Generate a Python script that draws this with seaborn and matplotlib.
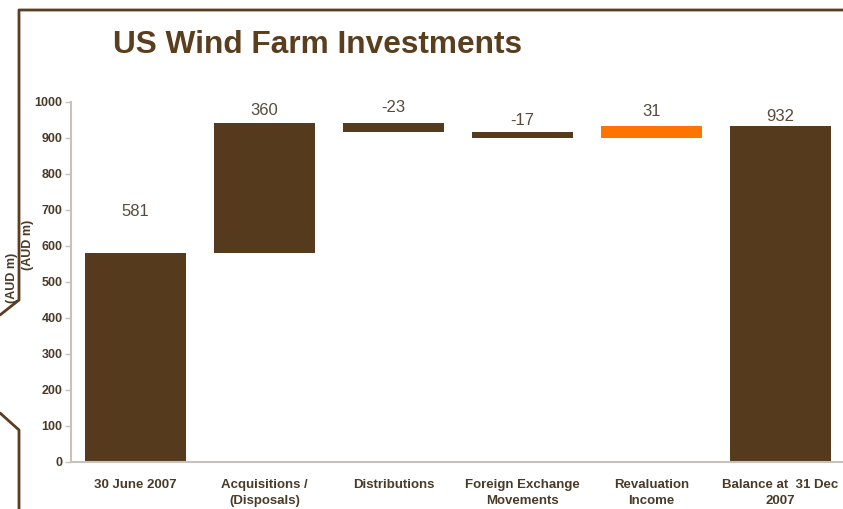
import matplotlib
matplotlib.use("Agg")
import matplotlib.pyplot as plt
import seaborn as sns
import numpy as np
from matplotlib.lines import Line2D

categories = ["30 June 2007", "Acquisitions /\n(Disposals)", "Distributions",
              "Foreign Exchange\nMovements", "Revaluation\nIncome", "Balance at  31 Dec\n2007"]
changes = [581, 360, -23, -17, 31, 932]
is_total = [True, False, False, False, False, True]
value_labels = ["581", "360", "-23", "-17", "31", "932"]
y_ticks = [0, 100, 200, 300, 400, 500, 600, 700, 800, 900, 1000]

BROWN = "#553A1D"
ORANGE = "#FF7300"
TEXT = "#4A3A28"
FRAME = "#5A3E1E"
SPINE = "#C8C2BC"

# waterfall geometry from the values
bottoms, heights = [], []
running = 0
for v, tot in zip(changes, is_total):
    if tot:
        bottoms.append(0); heights.append(v); running = v
    else:
        new = running + v
        bottoms.append(min(running, new)); heights.append(abs(v)); running = new
tops = [b + h for b, h in zip(bottoms, heights)]
colors = [BROWN if (tot or v < 0 or i == 1) else ORANGE for i, (v, tot) in enumerate(zip(changes, is_total))]

sns.set_theme(style="white")
plt.rcParams['font.family'] = ['Liberation Sans', 'DejaVu Sans']

fig = plt.figure(figsize=(8.43, 5.09), dpi=100)
ax = fig.add_axes([71/843, 1-462/509, (845-71)/843, (462-102)/509])

sns.barplot(x=list(range(len(categories))), y=heights, bottom=bottoms, color=BROWN,
            width=0.78, saturation=1, ax=ax, native_scale=True)
for p, c in zip(ax.patches, colors):
    p.set_facecolor(c); p.set_edgecolor(c); p.set_linewidth(0)

offsets = [30, 9.5, 11, 8, 11, 7]
for i, (t, lab, off) in enumerate(zip(tops, value_labels, offsets)):
    ax.annotate(lab, (i, t), xytext=(0, off), textcoords="offset points",
                ha="center", va="center", fontsize=12, color="#5A4A3A")

ax.set_xlim(-0.5, len(categories) - 0.5)
ax.set_ylim(0, 1000)
ax.set_yticks(y_ticks)
ax.set_yticklabels([str(t) for t in y_ticks], fontsize=9, fontweight="bold", color=TEXT)
ax.set_xticks(np.arange(len(categories) + 1) - 0.5)
ax.set_xticklabels([])
ax.set_xticks(np.arange(len(categories)), minor=True)
ax.set_xticklabels(categories, minor=True, fontsize=9.5, fontweight="bold", color=TEXT, linespacing=1.45)
ax.tick_params(axis="x", which="minor", length=0, pad=12)
ax.tick_params(axis="x", which="major", length=4, color=SPINE, direction="out", width=1)
ax.tick_params(axis="y", length=4, color=SPINE, direction="out", width=1, pad=2, left=True)
ax.set_xlabel(""); ax.set_ylabel("")
for s in ["top", "right"]:
    ax.spines[s].set_visible(False)
for s in ["left", "bottom"]:
    ax.spines[s].set_color(SPINE)
    ax.spines[s].set_linewidth(1.5)
ax.patch.set_alpha(0)

fig.text(113/843, 1-45/509, "US Wind Farm Investments", fontsize=22.8, fontweight="bold",
         color=FRAME, ha="left", va="center")
fig.text(12/843, 1-278/509, "(AUD m)", rotation=90, fontsize=9, fontweight="bold",
         color=TEXT, ha="center", va="center")
fig.text(28/843, 1-245/509, "(AUD m)", rotation=90, fontsize=9, fontweight="bold",
         color=TEXT, ha="center", va="center")

W, H = 843, 509
px = [843, 19, 19, 0]
py = [10, 10, 300, 315]
fig.add_artist(Line2D([x/W for x in px], [1-y/H for y in py], color=FRAME, lw=2, transform=fig.transFigure))
px2 = [0, 19, 19]
py2 = [413, 430, 509]
fig.add_artist(Line2D([x/W for x in px2], [1-y/H for y in py2], color=FRAME, lw=2, transform=fig.transFigure))

fig.savefig("out.png", dpi=100, facecolor="white")
